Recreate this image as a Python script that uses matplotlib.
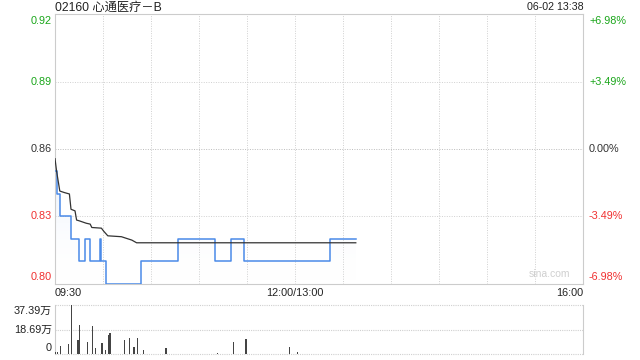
import numpy as np
import matplotlib
matplotlib.use("Agg")
import matplotlib.pyplot as plt
from matplotlib.transforms import blended_transform_factory

plt.rcParams['font.family'] = ['Liberation Sans', 'Noto Sans CJK SC', 'DejaVu Sans']

# ---------------- data ----------------
title = "02160 心通医疗－B"
stamp = "06-02 13:38"
prev_close = 0.86
limit_pct = 6.98

# price change points (minutes since 09:30, trading minutes; lunch removed)
price_minutes = [0, 1, 3, 10, 15, 19, 22, 28, 29, 32, 54, 77, 100, 110, 118, 172, 188]
price_values = [0.85, 0.84, 0.83, 0.82, 0.81, 0.82, 0.81, 0.82, 0.81, 0.80,
                0.81, 0.82, 0.81, 0.82, 0.81, 0.82, 0.82]

avg_minutes = [0, 1, 3, 6, 9, 10, 12.5, 13.5, 15, 19.5, 22, 23, 29, 30.5, 33,
               41.5, 44.5, 48, 51, 188]
avg_values = [0.8557, 0.8501, 0.8413, 0.8406, 0.8400, 0.8332, 0.8325, 0.8284,
              0.8281, 0.8270, 0.8266, 0.8251, 0.8248, 0.8234, 0.8214, 0.8210,
              0.8203, 0.8195, 0.8183, 0.8183]

vol_minutes = [0, 1, 3, 8, 10, 14, 15, 20, 23, 25, 29, 31, 33, 34, 43, 46, 49,
               51, 55, 69, 101, 111, 119, 146, 151]
vol_values = [1.5, 1.5, 6.1, 7.6, 37.39, 10.7, 22.1, 9.2, 21.4, 4.3, 8.4, 3.0,
              14.5, 16.0, 10.7, 12.2, 5.3, 12.2, 3.0, 4.6, 1.0, 9.2, 11.5, 5.3, 1.5]  # 万

price_ticks = [0.92, 0.89, 0.86, 0.83, 0.80]
pct_labels = ["+6.98%", "+3.49%", "0.00%", "-3.49%", "-6.98%"]
tick_colors = ["#1aa61a", "#1aa61a", "#333333", "#f03030", "#f03030"]
vol_ticks = [37.39, 18.69, 0]
vol_labels = ["37.39万", "18.69万", "0"]
time_labels = ["09:30", "12:00/13:00", "16:00"]
time_pos = [0, 150, 330]

# ---------------- figure ----------------
W, H = 640, 360
fig = plt.figure(figsize=(6.4, 3.6), dpi=100)
L, R = 55, 583
ax = fig.add_axes([L / W, (H - 284) / H, (R - L) / W, 270 / H])
axv = fig.add_axes([L / W, (H - 354) / H, (R - L) / W, 49 / H])

ymin = prev_close * (1 - limit_pct / 100)
ymax = prev_close * (1 + limit_pct / 100)
ax.set_xlim(0, 330)
ax.set_ylim(ymin, ymax)
grid_c = "#d0d0d0"
for s in ax.spines.values():
    s.set_color("#cccccc")
    s.set_linewidth(0.8)
ax.set_xticks([])
ax.set_yticks([])
for m in range(30, 330, 30):
    ax.axvline(m, color=grid_c, lw=0.7, ls=(0, (1, 1.5)), zorder=0)
for p in price_ticks[1:-1]:
    ax.axhline(p, color="#bbbbbb" if p == prev_close else grid_c, lw=0.7,
               ls=(0, (1, 1.5)), zorder=0)

# gradient fill under price
x_step = np.repeat(price_minutes, 2)[1:]
y_step = np.repeat(price_values, 2)[:-1]
poly = ax.fill_between(x_step, y_step, ymin, facecolor="none", edgecolor="none")
grad = np.linspace(0, 1, 256).reshape(-1, 1)
cmap = matplotlib.colors.LinearSegmentedColormap.from_list(
    "g", [(1, 1, 1, 0), (0.24, 0.5, 0.88, 0.13)])
im = ax.imshow(grad, cmap=cmap, aspect="auto", origin="lower",
               extent=[0, 330, ymin, 0.855], zorder=1)
im.set_clip_path(poly.get_paths()[0], transform=ax.transData)

ax.plot(price_minutes, price_values, drawstyle="steps-post", color="#4a8ae8",
        lw=1.1, zorder=3)
ax.plot(avg_minutes, avg_values, color="#333333", lw=0.9, zorder=4)

# y labels
trl = blended_transform_factory(ax.transAxes, ax.transData)
for i, (p, lab, c) in enumerate(zip(price_ticks, pct_labels, tick_colors)):
    va = "top" if i == 0 else ("bottom" if i == len(price_ticks) - 1 else "center")
    dy = -2 if i == 0 else (2 if i == len(price_ticks) - 1 else 0)
    ax.annotate(f"{p:.2f}", (0, p), xycoords=trl, xytext=(-3, dy),
                textcoords="offset pixels", ha="right", va=va, color=c, fontsize=7.8)
    ax.annotate(lab, (1, p), xycoords=trl, xytext=(6, dy),
                textcoords="offset pixels", ha="left", va=va, color=c, fontsize=7.8)

# time labels
for t, lab in zip(time_pos, time_labels):
    ha = "left" if t == 0 else ("right" if t == 330 else "center")
    ax.annotate(lab, (t, 0), xycoords=blended_transform_factory(ax.transData, ax.transAxes),
                xytext=(0, -9), textcoords="offset pixels", ha=ha, va="center",
                color="#222222", fontsize=7.8)

fig.text(L / W, 1 - 7.5 / H, title, ha="left", va="center", fontsize=8.8, color="#222222")
fig.text(584 / W, 1 - 7.5 / H, stamp, ha="right", va="center", fontsize=7.7, color="#222222")
ax.text(0.975, 0.018, "sina.com", transform=ax.transAxes, ha="right", va="bottom",
        fontsize=7.5, color="#cfcfcf")

# volume
axv.set_xlim(0, 330)
axv.set_ylim(0, 37.39)
axv.bar(vol_minutes, vol_values, width=0.75, color="#444444", align="edge", zorder=3)
axv.set_xticks([])
axv.set_yticks([])
for k in ("top", "bottom"):
    axv.spines[k].set_visible(False)
for k in ("left", "right"):
    axv.spines[k].set_color("#cccccc")
    axv.spines[k].set_linewidth(0.8)
for v in vol_ticks:
    axv.axhline(v, color=grid_c, lw=0.8, ls=(0, (1, 1)), zorder=1, clip_on=False)
trv = blended_transform_factory(axv.transAxes, axv.transData)
for i, (v, lab) in enumerate(zip(vol_ticks, vol_labels)):
    va = "top" if i == 0 else ("bottom" if i == len(vol_ticks) - 1 else "center")
    dy = -1 if i == 0 else (1 if i == len(vol_ticks) - 1 else 0)
    axv.annotate(lab, (0, v), xycoords=trv, xytext=(-3, dy), textcoords="offset pixels",
                 ha="right", va=va, fontsize=7.8, color="#222222")

fig.savefig("out.png", dpi=100)
